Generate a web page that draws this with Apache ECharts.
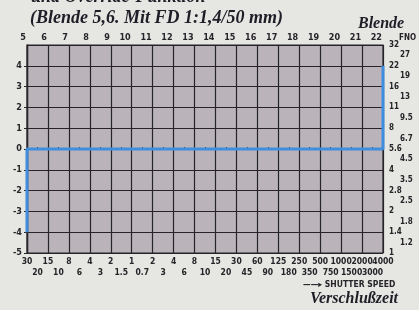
<!DOCTYPE html>
<html>
<head>
<meta charset="utf-8">
<script src="https://cdn.jsdelivr.net/npm/echarts@6/dist/echarts.min.js"></script>
<style>
  html, body { margin: 0; padding: 0; background: #e6e6e3; }
  #chart { width: 419px; height: 310px; }
</style>
</head>
<body>
<div id="chart"></div>
<script>
// Blende (aperture) across the top, one per column line
const apertureTop = ['5', '6', '7', '8', '9', '10', '11', '12', '13', '14', '15', '16', '17', '18', '19', '20', '21', '22'];
// shutter speed, upper row on the column lines, lower row between
const shutterMain = ['30', '15', '8', '4', '2', '1', '2', '4', '8', '15', '30', '60', '125', '250', '500', '1000', '2000', '4000'];
const shutterMid = ['20', '10', '6', '3', '1.5', '0.7', '3', '6', '10', '20', '45', '90', '180', '350', '750', '1500', '3000'];
// FNO on the right, main values on the row lines (-5 .. 5), in-between values
const fnoMain = ['1', '1.4', '2', '2.8', '4', '5.6', '8', '11', '16', '22', '32'];
const fnoMid = ['1.2', '1.8', '2.5', '3.5', '4.5', '6.7', '9.5', '13', '19', '27'];
// program line (column index, EV)
const programLine = [[0, -4], [0, 0], [17, 0], [17, 4]];

const ink = '#262428';
const numFont = '"Liberation Sans Narrow", "DejaVu Sans Condensed", sans-serif';
const serif = '"Liberation Serif", "DejaVu Serif", serif';
const headStyle = { fontFamily: serif, fontStyle: 'italic', fontWeight: 'bold', color: '#1f1d26' };

const chart = echarts.init(document.getElementById('chart'));

chart.setOption({
  backgroundColor: '#e6e6e3',
  animation: false,
  title: [
    { text: 'und Override-Funktion', left: 26, top: -17, textStyle: Object.assign({ fontSize: 18 }, headStyle) },
    { text: '(Blende 5,6. Mit FD 1:1,4/50 mm)', left: 25, top: 4, textStyle: Object.assign({ fontSize: 18 }, headStyle) },
    { text: 'Blende', left: 353, top: 11, textStyle: Object.assign({ fontSize: 16 }, headStyle) },
    { text: 'FNO', left: 394, top: 29,
      textStyle: { fontFamily: numFont, fontWeight: 'bold', fontSize: 8, color: ink } },
    { text: '\u2014\u2014\u25B8 SHUTTER SPEED', left: 298, top: 275,
      textStyle: { fontFamily: numFont, fontWeight: 'bold', fontSize: 8.5, color: ink } },
    { text: 'Verschlu\u00DFzeit', left: 305, top: 286, textStyle: Object.assign({ fontSize: 16 }, headStyle) }
  ],
  grid: {
    left: 27, right: 36, top: 45, bottom: 57,
    show: true, backgroundColor: '#bab4ba', borderColor: ink, borderWidth: 1.2
  },
  xAxis: [
    {
      type: 'value', position: 'top', min: 0, max: 17, interval: 1,
      axisLine: { show: true, lineStyle: { color: ink, width: 1.2 } },
      axisTick: { show: true, length: 3, lineStyle: { color: ink } },
      splitLine: { show: true, lineStyle: { color: ink, width: 1.2 } },
      axisLabel: {
        margin: 3, align: 'right', padding: [0, 1, 0, 0],
        fontFamily: numFont, fontSize: 9, fontWeight: 'bold', color: ink,
        formatter: v => apertureTop[v]
      }
    },
    {
      // upper row of shutter speeds, on the column lines
      type: 'value', position: 'bottom', min: 0, max: 17, interval: 0.5,
      axisLine: { show: true, lineStyle: { color: ink, width: 1.2 } },
      axisTick: { show: true, length: 2, inside: true, lineStyle: { color: ink } },
      splitLine: { show: false },
      axisLabel: {
        margin: 4, showMinLabel: true, showMaxLabel: true,
        fontFamily: numFont, fontSize: 8.5, fontWeight: 'bold', color: ink,
        formatter: v => Number.isInteger(v) ? shutterMain[v] : ''
      }
    },
    {
      // lower row, between the column lines
      type: 'value', position: 'bottom', offset: 11, min: 0, max: 17, interval: 0.5,
      axisLine: { show: false },
      axisTick: { show: false },
      splitLine: { show: false },
      axisLabel: {
        margin: 4, showMinLabel: true, showMaxLabel: true,
        fontFamily: numFont, fontSize: 8.5, fontWeight: 'bold', color: ink,
        formatter: v => Number.isInteger(v) ? '' : shutterMid[Math.floor(v)]
      }
    }
  ],
  yAxis: [
    {
      type: 'value', position: 'left', min: -5, max: 5, interval: 1,
      axisLine: { show: true, lineStyle: { color: ink, width: 1.2 } },
      axisTick: { show: true, length: 3, lineStyle: { color: ink } },
      splitLine: { show: true, lineStyle: { color: ink, width: 1.2 } },
      axisLabel: {
        margin: 5, showMaxLabel: false,
        fontFamily: numFont, fontSize: 9, fontWeight: 'bold', color: ink
      }
    },
    {
      type: 'value', position: 'right', min: -5, max: 5, interval: 0.5,
      axisLine: { show: true, lineStyle: { color: ink, width: 1.2 } },
      axisTick: { show: false },
      splitLine: { show: false },
      axisLabel: {
        margin: 3, showMinLabel: true, showMaxLabel: true,
        fontFamily: numFont, fontSize: 8, fontWeight: 'bold', color: ink,
        formatter: v => Number.isInteger(v)
          ? '{a|' + fnoMain[v + 5] + '}'
          : '{b|' + fnoMid[Math.floor(v) + 5] + '}',
        rich: {
          a: { fontFamily: numFont, fontSize: 8, fontWeight: 'bold', color: ink, padding: [0, 0, 0, 3] },
          b: { fontFamily: numFont, fontSize: 8, fontWeight: 'bold', color: ink, padding: [0, 0, 0, 14] }
        }
      }
    },
    {
      type: 'value', position: 'right', offset: 0, min: -5, max: 5, interval: 1,
      axisLine: { show: false },
      axisTick: { show: true, length: 3, lineStyle: { color: ink } },
      splitLine: { show: false },
      axisLabel: { show: false }
    }
  ],
  series: [
    {
      type: 'line', xAxisIndex: 0, yAxisIndex: 0,
      data: programLine,
      symbol: 'none',
      lineStyle: { color: '#3f8ddc', width: 3 },
      z: 5
    }
  ]
});
</script>
</body>
</html>
